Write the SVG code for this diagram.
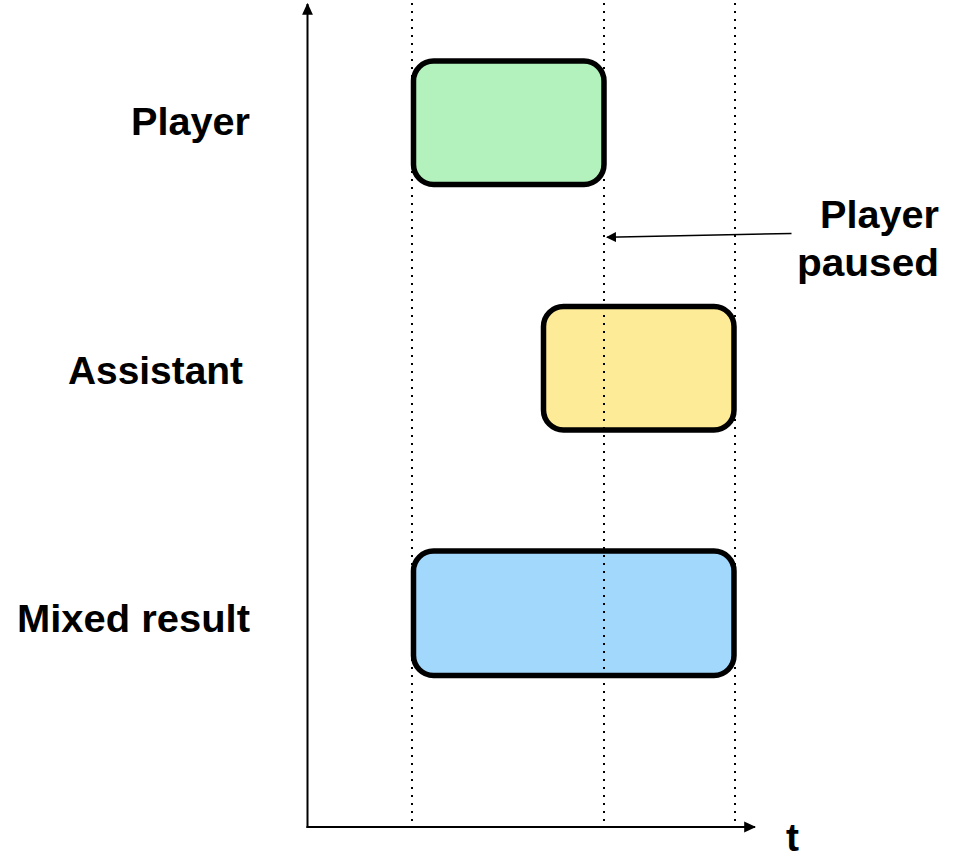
<svg xmlns="http://www.w3.org/2000/svg" width="955" height="856" viewBox="0 0 955 856">
  <style>
    .lbl { font-family: "Liberation Sans", Arial, sans-serif; font-weight: bold; font-size: 39px; fill: #000; }
    .box { stroke: #000; stroke-width: 5.5; }
    .axis { stroke: #000; stroke-width: 2; fill: none; }
    .guide { stroke: #000; stroke-width: 2; stroke-dasharray: 2 6; fill: none; }
  </style>
  <defs>
    <marker id="head" viewBox="0 0 10 10" refX="9" refY="5" markerWidth="10" markerHeight="10" markerUnits="userSpaceOnUse" orient="auto">
      <path d="M0,0 L10,5 L0,10 Z" fill="#000"/>
    </marker>
    <marker id="headBig" viewBox="0 0 10 10" refX="9" refY="5" markerWidth="12" markerHeight="12" markerUnits="userSpaceOnUse" orient="auto">
      <path d="M0,0.5 L10,5 L0,9.5 Z" fill="#000"/>
    </marker>
  </defs>

  <rect width="955" height="856" fill="#fff"/>

  <!-- track labels -->
  <text class="lbl" x="250" y="135" text-anchor="end" textLength="119" lengthAdjust="spacingAndGlyphs">Player</text>
  <text class="lbl" x="243" y="384" text-anchor="end" textLength="175" lengthAdjust="spacingAndGlyphs">Assistant</text>
  <text class="lbl" x="250" y="632" text-anchor="end" textLength="233" lengthAdjust="spacingAndGlyphs">Mixed result</text>

  <!-- segments -->
  <g id="player">
    <rect class="box" x="413.5" y="61" width="190.5" height="123.5" rx="20" fill="#b3f2bd"/>
  </g>
  <g id="assistant">
    <rect class="box" x="543.5" y="306.5" width="190.5" height="123.5" rx="20" fill="#feeb97"/>
  </g>
  <g id="mixed">
    <rect class="box" x="413.5" y="551" width="320.5" height="124.5" rx="20" fill="#a3d8fd"/>
  </g>

  <!-- connectors: axes, time guides, pause pointer -->
  <g id="connectors">
    <line class="axis" x1="307.5" y1="828" x2="307.5" y2="4" marker-end="url(#headBig)"/>
    <line class="axis" x1="306.5" y1="827" x2="755" y2="827" marker-end="url(#headBig)"/>
    <line class="guide" x1="412" y1="3" x2="412" y2="827"/>
    <line class="guide" x1="604" y1="3" x2="604" y2="827"/>
    <line class="guide" x1="735" y1="3" x2="735" y2="827"/>
    <line stroke="#000" stroke-width="1.5" x1="791.5" y1="233.5" x2="607" y2="237.3" marker-end="url(#head)"/>
  </g>

  <!-- annotations -->
  <text class="lbl" x="939" y="228" text-anchor="end" textLength="119" lengthAdjust="spacingAndGlyphs">Player</text>
  <text class="lbl" x="939" y="276" text-anchor="end" textLength="142" lengthAdjust="spacingAndGlyphs">paused</text>
  <text class="lbl" x="786" y="851">t</text>
</svg>
